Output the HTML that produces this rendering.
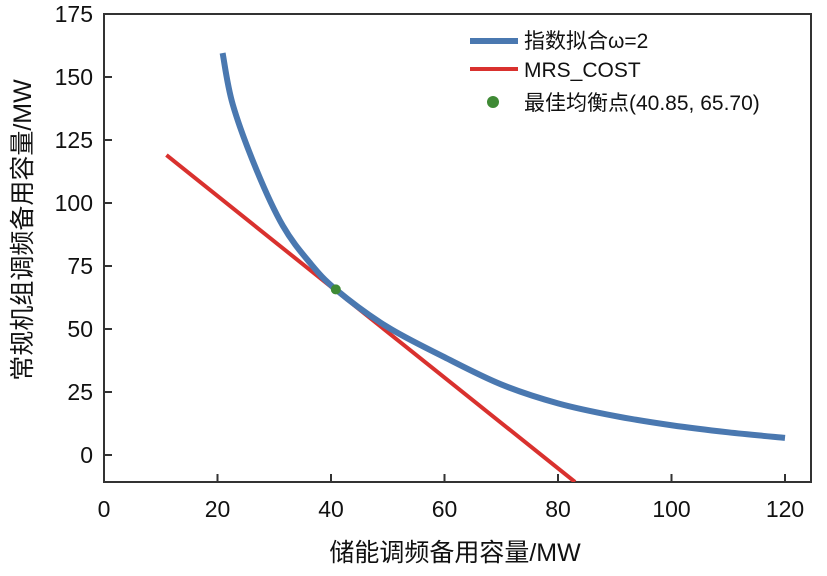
<!DOCTYPE html>
<html><head><meta charset="utf-8"><style>
body{margin:0;background:#fff;width:827px;height:571px;overflow:hidden}
svg text{font-family:"Liberation Sans","Noto Sans CJK SC",sans-serif;fill:#111}
</style></head><body>
<svg id="chart" width="827" height="571"></svg>
<script>
const xTicks=[0,20,40,60,80,100,120];
const yTicks=[0,25,50,75,100,125,150,175];
const fitX=[20.9,22.7,26.9,31.5,36.2,40.85,49.8,60,70,80,90,100,110,120];
const fitY=[159.5,139,113,91,76.5,65.7,51,38.8,28,20.5,15.5,11.8,9,6.8];
const costX=[11,83];
const costY=[119,-10.7];
const eqX=[40.85];
const eqY=[65.70];
const L=104,R=811,T=14,B=482;
const sx=v=>104+v*(331-104)/40;
const sy=v=>455-v*(455-14)/175;
const NS='http://www.w3.org/2000/svg';
const svg=document.getElementById('chart');
function mk(t,a,p){const e=document.createElementNS(NS,t);for(const k in a)e.setAttribute(k,a[k]);(p||svg).appendChild(e);return e;}
function smooth(xs,ys){
 const P=xs.map((x,i)=>[sx(x),sy(ys[i])]);
 let d='M'+P[0][0]+','+P[0][1];
 for(let i=0;i<P.length-1;i++){
  const p0=P[i-1]||P[i],p1=P[i],p2=P[i+1],p3=P[i+2]||P[i+1];
  const c1=[p1[0]+(p2[0]-p0[0])/6,p1[1]+(p2[1]-p0[1])/6];
  const c2=[p2[0]-(p3[0]-p1[0])/6,p2[1]-(p3[1]-p1[1])/6];
  d+=' C'+c1[0]+','+c1[1]+' '+c2[0]+','+c2[1]+' '+p2[0]+','+p2[1];
 }
 return d;
}
const defs=mk('defs',{});const cp=mk('clipPath',{id:'clip'},defs);mk('rect',{x:L,y:T,width:R-L,height:B-T},cp);
const frame=mk('rect',{x:L,y:T,width:R-L,height:B-T,fill:'none',stroke:'#333','stroke-width':2});


xTicks.forEach(v=>{
 const l=mk('line',{x1:sx(v),x2:sx(v),y1:B,y2:B-8,stroke:'#333','stroke-width':2});
 
 
 const t=mk('text',{x:sx(v),y:517,'text-anchor':'middle','font-size':23});t.textContent=v;
 
 
});
yTicks.forEach(v=>{
 const l=mk('line',{x1:L,x2:L+8,y1:sy(v),y2:sy(v),stroke:'#333','stroke-width':2});
 
 
 const t=mk('text',{x:93,y:sy(v)+8,'text-anchor':'end','font-size':23});t.textContent=v;
 
 
});
const g=mk('g',{'clip-path':'url(#clip)'});
const cost=mk('polyline',{points:costX.map((x,i)=>sx(x)+','+sy(costY[i])).join(' '),fill:'none',stroke:'#d9312e','stroke-width':4},g);


const fit=mk('path',{d:smooth(fitX,fitY),fill:'none',stroke:'#4a78b0','stroke-width':6,'stroke-linejoin':'round'},g);


eqX.forEach((x,i)=>{const c=mk('circle',{cx:sx(x),cy:sy(eqY[i]),r:5,fill:'#3f8a35'},g);
 
 });
const lg=mk('g',{});


mk('line',{x1:470,x2:518,y1:41,y2:41,stroke:'#4a78b0','stroke-width':6},lg);
mk('line',{x1:470,x2:518,y1:69,y2:69,stroke:'#d9312e','stroke-width':4},lg);
mk('circle',{cx:493,cy:102,r:6,fill:'#3f8a35'},lg);
[['指数拟合ω=2',48],['MRS_COST',77],['最佳均衡点(40.85, 65.70)',110]].forEach(([s,y])=>{
 const t=mk('text',{x:524,y:y,'font-size':21},lg);t.textContent=s;
 
 
});
const xt=mk('text',{x:455,y:561,'text-anchor':'middle','font-size':25});xt.textContent='储能调频备用容量/MW';


const yt=mk('text',{x:0,y:0,'text-anchor':'middle','font-size':25,transform:'translate(31,230) rotate(-90)'});yt.textContent='常规机组调频备用容量/MW';


</script>
</body></html>
